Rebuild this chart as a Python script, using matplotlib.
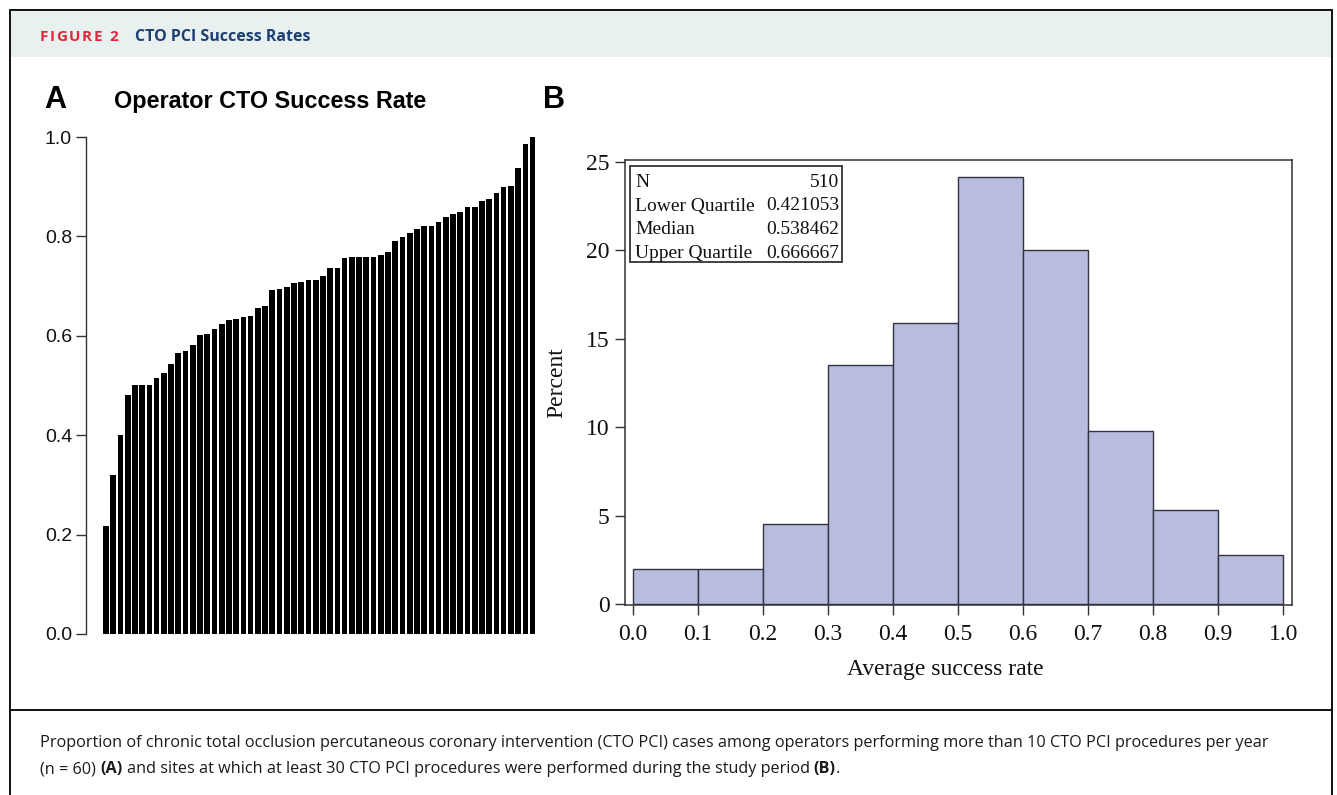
import matplotlib
matplotlib.use("Agg")
import matplotlib.pyplot as plt
from matplotlib.patches import Rectangle
from matplotlib.lines import Line2D

# ---------------- data ----------------
operator_rates = [0.218, 0.320, 0.400, 0.480, 0.502, 0.502, 0.502, 0.515, 0.526, 0.544,
                  0.565, 0.569, 0.581, 0.601, 0.603, 0.614, 0.624, 0.631, 0.634, 0.638,
                  0.640, 0.655, 0.660, 0.692, 0.695, 0.699, 0.707, 0.709, 0.713, 0.713,
                  0.720, 0.737, 0.737, 0.756, 0.759, 0.759, 0.759, 0.759, 0.762, 0.769,
                  0.791, 0.799, 0.807, 0.815, 0.820, 0.821, 0.829, 0.839, 0.845, 0.849,
                  0.860, 0.860, 0.872, 0.876, 0.888, 0.900, 0.902, 0.938, 0.985, 1.000]
a_yticks = [0.0, 0.2, 0.4, 0.6, 0.8, 1.0]

bin_left = [0.0, 0.1, 0.2, 0.3, 0.4, 0.5, 0.6, 0.7, 0.8, 0.9]
site_percent = [1.96, 1.96, 4.51, 13.53, 15.88, 24.12, 20.0, 9.80, 5.29, 2.75]
b_xticks = [0.0, 0.1, 0.2, 0.3, 0.4, 0.5, 0.6, 0.7, 0.8, 0.9, 1.0]
b_yticks = [0, 5, 10, 15, 20, 25]
stats_labels = ["N", "Lower Quartile", "Median", "Upper Quartile"]
stats_values = ["510", "0.421053", "0.538462", "0.666667"]

caption_line1 = [("Proportion of chronic total occlusion percutaneous coronary intervention (CTO PCI) cases among operators performing more than 10 CTO PCI procedures per year", "normal")]
caption_line2 = [("(n = 60) ", "normal"), ("(A)", "bold"),
                 (" and sites at which at least 30 CTO PCI procedures were performed during the study period ", "normal"),
                 ("(B)", "bold"), (".", "normal")]

# ---------------- figure ----------------
W, H = 1337, 795
fig = plt.figure(figsize=(W / 100, H / 100), dpi=100)
fig.patch.set_facecolor("white")

def fx(x):
    return x / W

def fy(y):
    return 1 - y / H

def ax_rect(l, t, r, b):
    return [fx(l), fy(b), (r - l) / W, (b - t) / H]

# page frame, header band, separator
fig.add_artist(Rectangle((fx(10), fy(57)), (1332 - 10) / W, (57 - 11) / H,
                         transform=fig.transFigure, facecolor="#e8f1f0", edgecolor="none", zorder=0))
fig.add_artist(Rectangle((fx(10), fy(800)), (1332 - 10) / W, (800 - 10) / H,
                         transform=fig.transFigure, facecolor="none", edgecolor="#111111", lw=1.4, zorder=5))
fig.add_artist(Line2D([fx(10), fx(1332)], [fy(710), fy(710)], transform=fig.transFigure,
                      color="#111111", lw=1.4))

renderer = fig.canvas.get_renderer()

def space_width(size, weight, family):
    t2 = fig.text(0, 0, "a a", fontsize=size, fontweight=weight, family=family)
    t3 = fig.text(0, 0, "aa", fontsize=size, fontweight=weight, family=family)
    w = t2.get_window_extent(renderer=renderer).width - t3.get_window_extent(renderer=renderer).width
    t2.remove(); t3.remove()
    return w

def draw_pieces(x0, y0, pieces, size, family, spacing=0.0):
    x = x0
    for text, weight, *rest in pieces:
        color = rest[0] if rest else "#1a1a1a"
        chars = [text] if spacing == 0 else list(text)
        for ch in chars:
            if ch == " ":
                x += space_width(size, weight, family) + spacing
                continue
            t = fig.text(fx(x), fy(y0), ch, fontsize=size, fontweight=weight, family=family,
                         color=color, ha="left", va="baseline")
            bb = t.get_window_extent(renderer=renderer)
            w = bb.width
            if ch.endswith(" "):
                w += space_width(size, weight, family)
            if ch.startswith(" "):
                pass
            x += w + spacing

def draw_run(x0, y0, pieces, size, family):
    # handles leading/trailing spaces by measuring with surrounding markers
    x = x0
    for text, weight, *rest in pieces:
        color = rest[0] if rest else "#1a1a1a"
        lead = len(text) - len(text.lstrip(" "))
        trail = len(text) - len(text.rstrip(" "))
        core = text.strip(" ")
        sw = space_width(size, weight, family)
        x += lead * sw
        t = fig.text(fx(x), fy(y0), core, fontsize=size, fontweight=weight, family=family,
                     color=color, ha="left", va="baseline")
        x += t.get_window_extent(renderer=renderer).width + trail * sw

# header
draw_pieces(40, 41, [("FIGURE 2", "bold", "#e3263b")], 11, "Open Sans", spacing=1.5)
draw_run(135, 41, [("CTO PCI Success Rates", "bold", "#1d3f73")], 11.5, "Open Sans")

# caption
cap_family = ["Open Sans", "DejaVu Sans"]
draw_run(40, 747, caption_line1, 11.7, cap_family)
draw_run(40, 773, caption_line2, 11.7, cap_family)

# ---------------- panel A ----------------
axA = fig.add_axes(ax_rect(86, 137, 545, 634))
xs = list(range(len(operator_rates)))
axA.bar(xs, operator_rates, width=0.78, color="black", edgecolor="none")
pitch = 7.23
axA.set_xlim(-(106 - 86) / pitch, len(operator_rates) - 1 + (545 - 532.6) / pitch)
axA.set_ylim(0, 1.0)
for s in ["top", "right", "bottom"]:
    axA.spines[s].set_visible(False)
axA.spines["left"].set_bounds(0, 1.0)
axA.spines["left"].set_color("#333333")
axA.spines["left"].set_linewidth(1.0)
axA.set_xticks([])
axA.set_yticks(a_yticks)
axA.set_yticklabels([f"{v:.1f}" for v in a_yticks], family="Liberation Sans", fontsize=14)
axA.tick_params(axis="y", direction="out", length=7, width=1.0, color="#333333", pad=3,
                labelcolor="#111111")
axA.set_facecolor("none")

fig.text(fx(44), fy(108), "A", fontsize=22, fontweight="bold", family="Liberation Sans", ha="left", va="baseline")
fig.text(fx(114), fy(108), "Operator CTO Success Rate", fontsize=16.8, fontweight="bold",
         family=["Liberation Sans Narrow", "Liberation Sans"], ha="left", va="baseline")
fig.text(fx(543), fy(108), "B", fontsize=22, fontweight="bold", family="Liberation Sans", ha="left", va="baseline")

# ---------------- panel B ----------------
axB = fig.add_axes(ax_rect(625, 160, 1292, 605))
axB.bar(bin_left, site_percent, width=0.1, align="edge", color="#b8bde0",
        edgecolor="#333344", linewidth=1.0)
ppx = (1283.3 - 632.7)
axB.set_xlim(-(632.7 - 625) / ppx, 1 + (1292 - 1283.3) / ppx)
ppy = (604 - 161.7) / 25
axB.set_ylim(-(605 - 604) / ppy, 25 + (161.7 - 160) / ppy)
for s in axB.spines.values():
    s.set_color("#333333")
    s.set_linewidth(1.1)
axB.set_xticks(b_xticks)
axB.set_xticklabels([f"{v:.1f}" for v in b_xticks], family="Liberation Serif", fontsize=17)
axB.set_yticks(b_yticks)
axB.set_yticklabels([str(v) for v in b_yticks], family="Liberation Serif", fontsize=17)
axB.tick_params(direction="out", length=7, width=1.0, color="#333333", labelcolor="#111111")
axB.tick_params(axis="x", pad=7)
axB.tick_params(axis="y", pad=4)
fig.text(fx(945), fy(675), "Average success rate", family="Liberation Serif", fontsize=17,
         ha="center", va="baseline", color="#111111")
fig.text(fx(557), fy(383), "Percent", family="Liberation Serif", fontsize=17, rotation=90,
         ha="center", va="center", color="#111111")

# stats inset
fig.add_artist(Rectangle((fx(630), fy(262)), (842 - 630) / W, (262 - 166) / H,
                         transform=fig.transFigure, facecolor="white",
                         edgecolor="#333333", lw=1.3, zorder=6))
for i, (lab, val) in enumerate(zip(stats_labels, stats_values)):
    yb = 187 + i * 23.5
    fig.text(fx(635), fy(yb), lab, fontsize=14, family="Liberation Serif", ha="left",
             va="baseline", zorder=7, color="#111111")
    fig.text(fx(839), fy(yb), val, fontsize=14, family="Liberation Serif", ha="right",
             va="baseline", zorder=7, color="#111111")

fig.savefig("out.png", dpi=100)
